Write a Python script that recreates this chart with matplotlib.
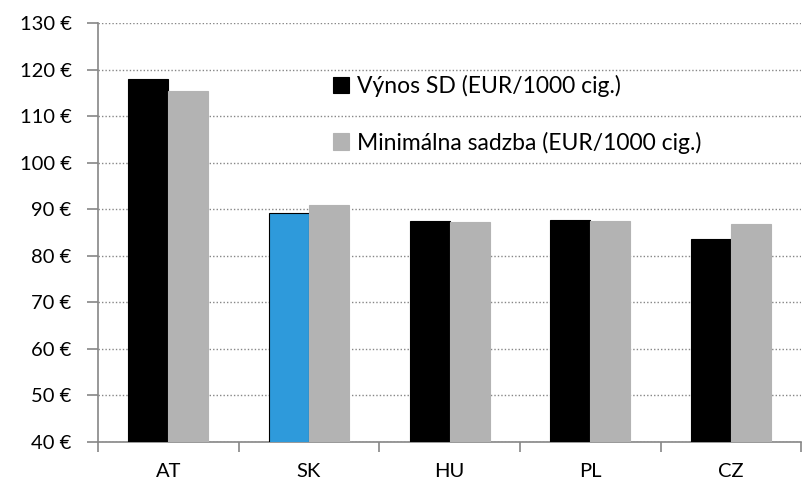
import matplotlib.pyplot as plt
import numpy as np

countries = ['AT', 'SK', 'HU', 'PL', 'CZ']
vynos = [118.0, 89.2, 87.5, 87.7, 83.6]
minimalna = [115.4, 90.9, 87.3, 87.4, 86.9]
yticks = list(range(40, 131, 10))

plt.rcParams['font.family'] = ['Lato', 'DejaVu Sans']

fig = plt.figure(figsize=(8.02, 4.86), dpi=100)
ax = fig.add_axes([98 / 802, 1 - 442 / 486, 1 - 98 / 802 - 0.001, (442 - 23) / 486])

x = np.arange(len(countries))
w = 0.285
black_cols = ['black'] * len(countries)
black_cols[1] = '#2E9ADB'
ax.bar(x - w / 2, vynos, w, color=black_cols, edgecolor='black', linewidth=0.8,
       label='Výnos SD (EUR/1000 cig.)', zorder=3)
ax.bar(x + w / 2, minimalna, w, color='#B3B3B3', edgecolor='#B3B3B3', linewidth=0.8,
       label='Minimálna sadzba (EUR/1000 cig.)', zorder=3)

ax.set_ylim(40, 130)
ax.set_xlim(-0.5, len(countries) - 0.5)
ax.set_yticks(yticks)
ax.set_yticklabels([f'{v} €' for v in yticks], fontsize=14.5)
ax.set_xticks(x)
ax.set_xticklabels(countries, fontsize=14.5)
ax.set_xticks(np.arange(-0.5, len(countries), 1), minor=True)
ax.tick_params(axis='x', which='major', length=0, pad=15)
ax.tick_params(axis='x', which='minor', length=7, width=1.2, color='#868686', direction='out')
ax.tick_params(axis='y', length=8, width=1.2, color='#868686', pad=11)

ax.yaxis.grid(True, linestyle=(0, (1, 1.5)), color='#868686', linewidth=1.0, zorder=0)
ax.set_axisbelow(True)
for s in ['top', 'right']:
    ax.spines[s].set_visible(False)
for s in ['left', 'bottom']:
    ax.spines[s].set_color('#868686')
    ax.spines[s].set_linewidth(1.2)

ax.legend(loc='upper left', bbox_to_anchor=(0.334, 0.876), frameon=False, fontsize=16.5,
          handlelength=0.7, handleheight=0.7, handletextpad=0.35, labelspacing=1.5,
          borderaxespad=0, borderpad=0)

fig.savefig('out.png', dpi=100)
